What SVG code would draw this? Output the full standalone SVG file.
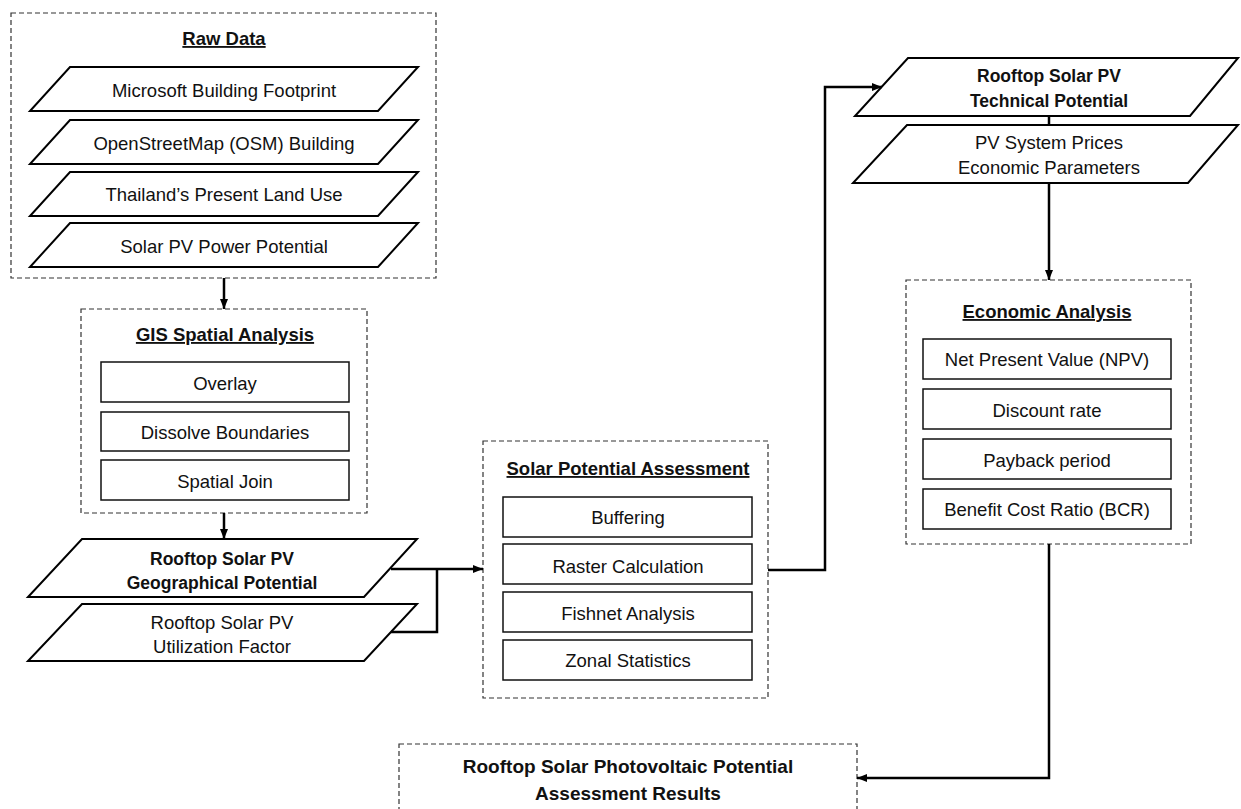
<svg xmlns="http://www.w3.org/2000/svg" width="1241" height="809" viewBox="0 0 1241 809">
<defs>
<style>
.grp{fill:none;stroke:#333;stroke-width:1.2;stroke-dasharray:5 3}
.para{fill:#fff;stroke:#000;stroke-width:2}
.box{fill:#fff;stroke:#111;stroke-width:1.5}
.t{font-family:"Liberation Sans",Arial,sans-serif;font-size:18.5px;fill:#111;text-anchor:middle}
.tb{font-family:"Liberation Sans",Arial,sans-serif;font-size:17.5px;font-weight:bold;fill:#111;text-anchor:middle}
.title{font-family:"Liberation Sans",Arial,sans-serif;font-size:18.5px;font-weight:bold;fill:#111;text-anchor:middle;text-decoration:underline}
.res{font-family:"Liberation Sans",Arial,sans-serif;font-size:19px;font-weight:bold;fill:#111;text-anchor:middle}
.c{fill:none;stroke:#000;stroke-width:2.5}
</style>
<marker id="ah" viewBox="0 0 10 10" refX="10" refY="5" markerWidth="10" markerHeight="10" markerUnits="userSpaceOnUse" orient="auto">
<path d="M0,1 L10,5 L0,9 Z" fill="#000"/>
</marker>
</defs>
<rect width="1241" height="809" fill="#fff"/>

<g id="raw-data">
<rect class="grp" x="11" y="13" width="425" height="265"/>
<text class="title" x="224" y="45">Raw Data</text>
<polygon class="para" points="70,67 418,67 378,111 30,111"/>
<text class="t" x="224" y="96.5">Microsoft Building Footprint</text>
<polygon class="para" points="70,120 418,120 378,164 30,164"/>
<text class="t" x="224" y="149.5">OpenStreetMap (OSM) Building</text>
<polygon class="para" points="70,172 418,172 378,216 30,216"/>
<text class="t" x="224" y="200.5">Thailand’s Present Land Use</text>
<polygon class="para" points="70,223 418,223 378,267 30,267"/>
<text class="t" x="224" y="252.5">Solar PV Power Potential</text>
</g>

<g id="gis-spatial-analysis">
<rect class="grp" x="81" y="309" width="286" height="204"/>
<text class="title" x="225" y="341">GIS Spatial Analysis</text>
<rect class="box" x="101" y="362" width="248" height="40"/>
<text class="t" x="225" y="389.5">Overlay</text>
<rect class="box" x="101" y="412" width="248" height="39"/>
<text class="t" x="225" y="438.5">Dissolve Boundaries</text>
<rect class="box" x="101" y="460" width="248" height="40"/>
<text class="t" x="225" y="487.5">Spatial Join</text>
</g>

<g id="geographical-potential">
<polygon class="para" points="82,539 417,539 364,597 28,597"/>
<text class="tb" x="222" y="564.5">Rooftop Solar PV</text>
<text class="tb" x="222" y="588.5">Geographical Potential</text>
</g>

<g id="utilization-factor">
<polygon class="para" points="82,604 417,604 364,661 28,661"/>
<text class="t" x="222" y="628.5">Rooftop Solar PV</text>
<text class="t" x="222" y="652.5">Utilization Factor</text>
</g>

<g id="solar-potential-assessment">
<rect class="grp" x="483" y="441" width="285" height="257"/>
<text class="title" x="628" y="475">Solar Potential Assessment</text>
<rect class="box" x="503" y="497" width="249" height="40"/>
<text class="t" x="628" y="523.5">Buffering</text>
<rect class="box" x="503" y="544" width="249" height="40"/>
<text class="t" x="628" y="572.5">Raster Calculation</text>
<rect class="box" x="503" y="592" width="249" height="40"/>
<text class="t" x="628" y="619.5">Fishnet Analysis</text>
<rect class="box" x="503" y="640" width="249" height="40"/>
<text class="t" x="628" y="666.5">Zonal Statistics</text>
</g>

<g id="technical-potential">
<polygon class="para" points="908,58 1238,58 1190,116 855,116"/>
<text class="tb" x="1049" y="81.5">Rooftop Solar PV</text>
<text class="tb" x="1049" y="106.5">Technical Potential</text>
</g>

<g id="pv-system-prices">
<polygon class="para" points="907,125 1238,125 1188,183 853,183"/>
<text class="t" x="1049" y="148.5">PV System Prices</text>
<text class="t" x="1049" y="173.5">Economic Parameters</text>
</g>

<g id="economic-analysis">
<rect class="grp" x="906" y="280" width="285" height="264"/>
<text class="title" x="1047" y="318">Economic Analysis</text>
<rect class="box" x="923" y="339" width="248" height="40"/>
<text class="t" x="1047" y="365.5">Net Present Value (NPV)</text>
<rect class="box" x="923" y="389" width="248" height="40"/>
<text class="t" x="1047" y="416.5">Discount rate</text>
<rect class="box" x="923" y="439" width="248" height="40"/>
<text class="t" x="1047" y="466.5">Payback period</text>
<rect class="box" x="923" y="489" width="248" height="40"/>
<text class="t" x="1047" y="515.5">Benefit Cost Ratio (BCR)</text>
</g>

<g id="results">
<rect class="grp" x="399" y="744" width="458" height="80"/>
<text class="res" x="628" y="773">Rooftop Solar Photovoltaic Potential</text>
<text class="res" x="628" y="800">Assessment Results</text>
</g>

<g id="connectors">
<line class="c" x1="224" y1="278" x2="224" y2="309" marker-end="url(#ah)"/>
<line class="c" x1="224" y1="513" x2="224" y2="539" marker-end="url(#ah)"/>
<polyline class="c" points="391,569 483,569" marker-end="url(#ah)"/>
<polyline class="c" points="391,632 437,632 437,569"/>
<polyline class="c" points="768,570 825,570 825,87 882,87" marker-end="url(#ah)"/>
<line class="c" x1="1049" y1="116" x2="1049" y2="125"/>
<line class="c" x1="1049" y1="183" x2="1049" y2="280" marker-end="url(#ah)"/>
<polyline class="c" points="1049,544 1049,778 857,778" marker-end="url(#ah)"/>
</g>
</svg>
